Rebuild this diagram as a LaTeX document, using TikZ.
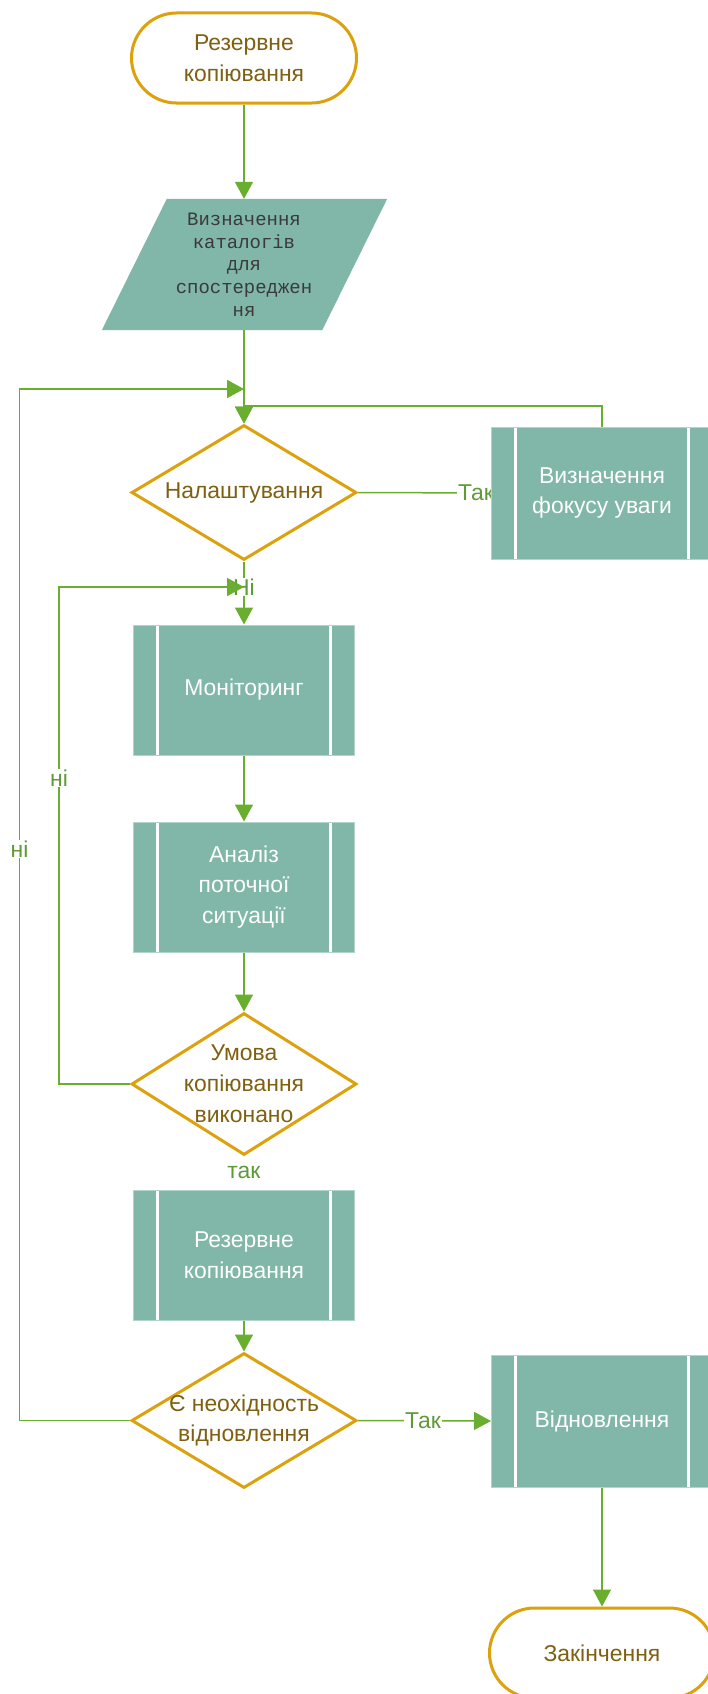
\documentclass[tikz,border=0pt]{standalone}
\usepackage{fontspec}
\setmainfont{Liberation Sans}
\newfontfamily\monof{Liberation Mono}
\usetikzlibrary{shapes.geometric,arrows.meta,calc}
\pgfdeclarelayer{back}
\pgfdeclarelayer{bg}
\pgfsetlayers{back,bg,main}
\definecolor{orng}{HTML}{DCA10D}
\definecolor{brn}{HTML}{7F6011}
\definecolor{grn}{HTML}{6AAE2F}
\definecolor{grnt}{HTML}{5E9A36}
\definecolor{teal1}{HTML}{80B7A8}
\definecolor{monoc}{HTML}{3A3A3A}
\begin{document}
\begin{tikzpicture}[x=1bp,y=-1bp,
 font=\fontsize{23}{31}\selectfont,
 term/.style={rectangle, rounded corners=45bp, draw=orng, line width=3bp, fill=white,
   minimum width=225bp, minimum height=90bp, text=brn, align=center, inner sep=0pt},
 dec/.style={diamond, draw=orng, line width=3bp, fill=white,
   minimum width=225bp, minimum height=135bp, inner sep=0pt},
 dectext/.style={text=brn, align=center},
 proc/.style={rectangle, fill=teal1, draw=teal1!60!white, line width=1bp,
   minimum width=221bp, minimum height=130bp, text=white, align=center, inner sep=0pt,
   path picture={
     \draw[white,line width=2.5bp] ([xshift=24bp]path picture bounding box.north west) -- ([xshift=24bp]path picture bounding box.south west);
     \draw[white,line width=2.5bp] ([xshift=-24bp]path picture bounding box.north east) -- ([xshift=-24bp]path picture bounding box.south east);
   }},
 conn/.style={draw=grn, line width=1.5bp, -{Triangle[length=17bp,width=18bp]}},
 lbl/.style={fill=white, text=grnt, inner sep=1bp},
]
\useasboundingbox (0,0) rectangle (708,1694);
\begin{pgfonlayer}{back}
\fill[white] (0,0) rectangle (708,1694);
\end{pgfonlayer}
\clip (0,0) rectangle (708,1694);

% nodes
\node[term] (t1) at (244,58) {Резервне\\копіювання};
\node[text=monoc, font=\monof\fontsize{19}{22.8}\selectfont, align=center,
      minimum width=220bp, minimum height=131bp, inner sep=0pt] (par) at (244,264.5)
      {Визначення\\каталогів\\для\\спостереджен\\ня};
\node[dec, label={[dectext]center:Налаштування}] (d1) at (244,492.5) {};
\node[proc, minimum height=132bp] (fok) at (602,493) {Визначення\\фокусу уваги};
\node[proc] (mon) at (244,690) {Моніторинг};
\node[proc] (an) at (244,887) {Аналіз\\поточної\\ситуації};
\node[dec, minimum height=142bp, label={[dectext]center:{Умова\\копіювання\\виконано}}] (d2) at (244,1084) {};
\node[proc] (rk) at (244,1255) {Резервне\\копіювання};
\node[dec, label={[dectext]center:{Є неохідность\\відновлення}}] (d3) at (244,1420.5) {};
\node[proc, minimum height=132bp] (vid) at (602,1421) {Відновлення};
\node[term] (t2) at (602,1653) {Закінчення};

\begin{pgfonlayer}{bg}
\fill[teal1] ([xshift=33bp]par.north west) -- ([xshift=33bp]par.north east)
   -- ([xshift=-32bp]par.south east) -- ([xshift=-32bp]par.south west) -- cycle;
\coordinate (j1) at (244,406);
\coordinate (j2) at (244,587);
\coordinate (l2) at (59,587);
\coordinate (j3) at (244,389);
\coordinate (l3) at (19.5,389);

\draw[conn] (t1.south) -- (par.north);
\draw[conn] (par.south) -- (d1.north);
\draw[conn] (fok.north) |- (j1) -- (d1.north);
\draw[conn] (d1.east) -- (fok.west);
\node[lbl] (lt1) at (476,492.5) {Так};
\draw[conn] (d1.south) -- (mon.north);
\node[lbl] (ln1) at (244,587) {Ні};
\draw[conn] (mon.south) -- (an.north);
\draw[conn] (an.south) -- (d2.north);
\draw[conn] (d2.west) -| (l2) -- (j2);
\node[lbl] (ln2) at (59,778) {ні};
\draw[conn] (d2.south) -- (rk.north);
\node[lbl, minimum height=34bp] (lt2) at (244,1172.5) {так};
\draw[conn] (rk.south) -- (d3.north);
\draw[conn] (d3.east) -- (vid.west);
\node[lbl] (lt3) at (423,1420.5) {Так};
\draw[conn] (d3.west) -| (l3) -- (j3);
\node[lbl] (ln3) at (19.5,849) {ні};
\draw[conn] (vid.south) -- (t2.north);
\end{pgfonlayer}
\end{tikzpicture}
\end{document}
